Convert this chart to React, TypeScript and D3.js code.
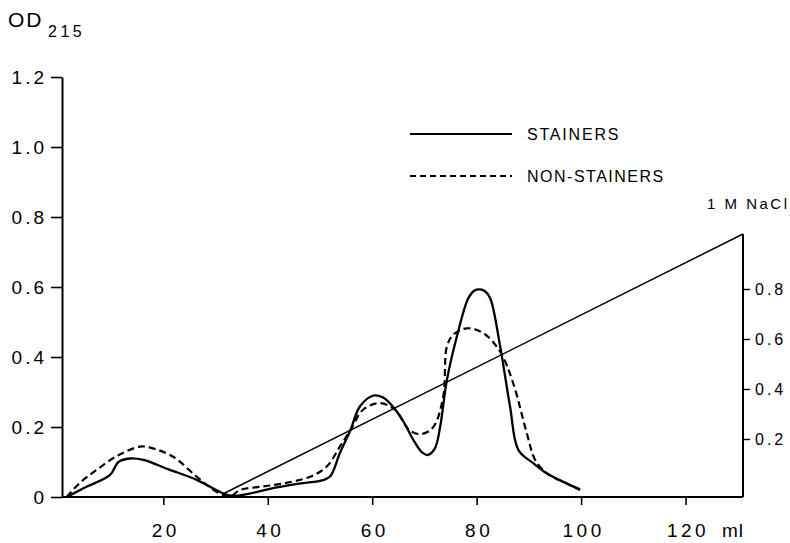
import React, { useEffect, useRef } from 'react';
import * as d3 from 'd3';

// elution volume (ml) and OD 215 readings
const stainersMl = [1.5, 5, 9.8, 11.4, 13.6, 16.2, 21, 26.4, 31.5, 33.5, 36, 40, 46, 50.6, 52, 53.8, 55.8, 57.7, 60.3, 62, 64, 66, 68, 69.5, 70.6, 72, 73, 74.3, 76.2, 78.4, 79.6, 80.6, 81.6, 82.6, 84.5, 86.4, 88, 90.9, 93.4, 97.2, 99.8];
const stainersOd = [0, 0.027, 0.063, 0.1, 0.11, 0.106, 0.079, 0.049, 0.01, 0.003, 0.008, 0.022, 0.038, 0.048, 0.06, 0.125, 0.19, 0.26, 0.29, 0.285, 0.258, 0.215, 0.16, 0.128, 0.12, 0.139, 0.2, 0.334, 0.458, 0.568, 0.59, 0.593, 0.588, 0.568, 0.43, 0.258, 0.134, 0.096, 0.068, 0.039, 0.022];

const nonStainersMl = [1.5, 4, 7.2, 11.1, 15.5, 17.5, 21.9, 26.4, 30.2, 32.8, 34.7, 39, 43, 48.1, 51.3, 53.8, 55.8, 58.3, 61.5, 64.4, 67.2, 69.5, 71.7, 73.6, 74.3, 75.5, 78.1, 81.3, 84.5, 87, 89.6, 91.2, 93.4, 97.2, 99.8];
const nonStainersOd = [0, 0.04, 0.077, 0.117, 0.144, 0.141, 0.115, 0.058, 0.015, 0.002, 0.02, 0.03, 0.039, 0.058, 0.087, 0.144, 0.19, 0.25, 0.268, 0.249, 0.19, 0.18, 0.2, 0.287, 0.43, 0.463, 0.482, 0.468, 0.415, 0.325, 0.182, 0.106, 0.068, 0.039, 0.02];

// NaCl gradient (M)
const gradientMl = [31.4, 131];
const gradientM = [-0.02, 1.02];

const xTicks = [20, 40, 60, 80, 100, 120];
const odTicks = [0, 0.2, 0.4, 0.6, 0.8, 1.0, 1.2];
const naclTicks = [0.2, 0.4, 0.6, 0.8];

const FONT = '"Liberation Sans", Arial, Helvetica, sans-serif';

const App = () => {
    const svgRef = useRef(null);

    const width = 790;
    const height = 543;

    const x = d3.scaleLinear().domain([0.6, 131]).range([62, 743]);
    const y = d3.scaleLinear().domain([0, 1.2]).range([497, 77]);
    const yR = d3.scaleLinear().domain([0, 1]).range([489, 239]);

    useEffect(() => {
        const svg = d3.select(svgRef.current);
        svg.selectAll('*').remove();

        const g = svg.append('g');

        // left axis
        const yAxis = d3.axisLeft(y)
            .tickValues(odTicks)
            .tickSize(11)
            .tickSizeOuter(0)
            .tickPadding(4)
            .tickFormat(d => d === 0 ? '0' : d3.format('.1f')(d));
        const ya = g.append('g').attr('transform', `translate(${x(0.6)},0)`).call(yAxis);
        ya.select('.domain').attr('stroke-width', 2);
        ya.selectAll('.tick line').attr('stroke-width', 1.6);
        ya.selectAll('.tick text')
            .style('font-family', FONT).style('font-size', '19px')
            .style('letter-spacing', '3px').attr('fill', '#000');

        // bottom axis
        const xAxis = d3.axisBottom(x)
            .tickValues(xTicks)
            .tickSize(8)
            .tickSizeOuter(0);
        const xa = g.append('g').attr('transform', `translate(0,${y(0)})`).call(xAxis);
        xa.select('.domain').remove();
        xa.selectAll('.tick line').attr('stroke-width', 1.6);
        xa.selectAll('.tick text')
            .attr('y', 40).attr('dy', 0).attr('x', 2)
            .style('font-family', FONT).style('font-size', '19px')
            .style('letter-spacing', '3.5px').attr('fill', '#000');
        g.append('line')
            .attr('x1', x(0.6)).attr('x2', x(131))
            .attr('y1', y(0)).attr('y2', y(0))
            .attr('stroke', '#000').attr('stroke-width', 2);

        // right axis (NaCl)
        const rAxis = d3.axisRight(yR)
            .tickValues(naclTicks)
            .tickSize(7)
            .tickSizeOuter(0)
            .tickPadding(5)
            .tickFormat(d3.format('.1f'));
        const ra = g.append('g').attr('transform', `translate(${x(131)},0)`).call(rAxis);
        ra.select('.domain').remove();
        ra.selectAll('.tick line').attr('stroke-width', 1.4);
        ra.selectAll('.tick text')
            .style('font-family', FONT).style('font-size', '16px')
            .style('letter-spacing', '3px').attr('fill', '#000');
        g.append('line')
            .attr('x1', x(131)).attr('x2', x(131))
            .attr('y1', y(0)).attr('y2', yR(gradientM[1]))
            .attr('stroke', '#000').attr('stroke-width', 2);

        // gradient line
        const gradPts = gradientMl.map((d, i) => [x(d), yR(gradientM[i])]);
        g.append('path')
            .attr('d', d3.line()(gradPts))
            .attr('fill', 'none').attr('stroke', '#000').attr('stroke-width', 1.5);

        const line = d3.line()
            .x(d => x(d[0]))
            .y(d => y(d[1]))
            .curve(d3.curveCatmullRom.alpha(0.5));

        const nonPts = nonStainersMl.map((d, i) => [d, nonStainersOd[i]]);
        g.append('path')
            .attr('d', line(nonPts))
            .attr('fill', 'none').attr('stroke', '#000')
            .attr('stroke-width', 2.2).attr('stroke-dasharray', '7 4');

        const stPts = stainersMl.map((d, i) => [d, stainersOd[i]]);
        g.append('path')
            .attr('d', line(stPts))
            .attr('fill', 'none').attr('stroke', '#000').attr('stroke-width', 2.3);

        // legend
        g.append('line').attr('x1', 410).attr('x2', 512).attr('y1', 134).attr('y2', 134)
            .attr('stroke', '#000').attr('stroke-width', 2);
        g.append('line').attr('x1', 410).attr('x2', 512).attr('y1', 176).attr('y2', 176)
            .attr('stroke', '#000').attr('stroke-width', 1.8).attr('stroke-dasharray', '6 4');
        const legendText = [['STAINERS', 140, 1.8], ['NON-STAINERS', 182, 1.5]];
        legendText.forEach(([t, yy, ls]) => {
            g.append('text').attr('x', 527).attr('y', yy).text(t)
                .style('font-family', FONT).style('font-size', '16px')
                .style('letter-spacing', `${ls}px`);
        });

        // labels
        g.append('text').attr('x', 707).attr('y', 209).text('1 M NaCl')
            .style('font-family', FONT).style('font-size', '15px').style('letter-spacing', '2.5px');
        g.append('text').attr('x', 722).attr('y', 537).text('ml')
            .style('font-family', FONT).style('font-size', '19px').style('letter-spacing', '1px');
        g.append('text').attr('x', 8).attr('y', 27).text('OD')
            .style('font-family', FONT).style('font-size', '21px').style('letter-spacing', '2px');
        g.append('text').attr('x', 48).attr('y', 37).text('215')
            .style('font-family', FONT).style('font-size', '16px').style('letter-spacing', '3.5px');
    }, []);

    return (
        <svg ref={svgRef} width={width} height={height}
            style={{ position: 'absolute', left: 0, top: 0, background: '#fff' }} />
    );
};

export default App;
